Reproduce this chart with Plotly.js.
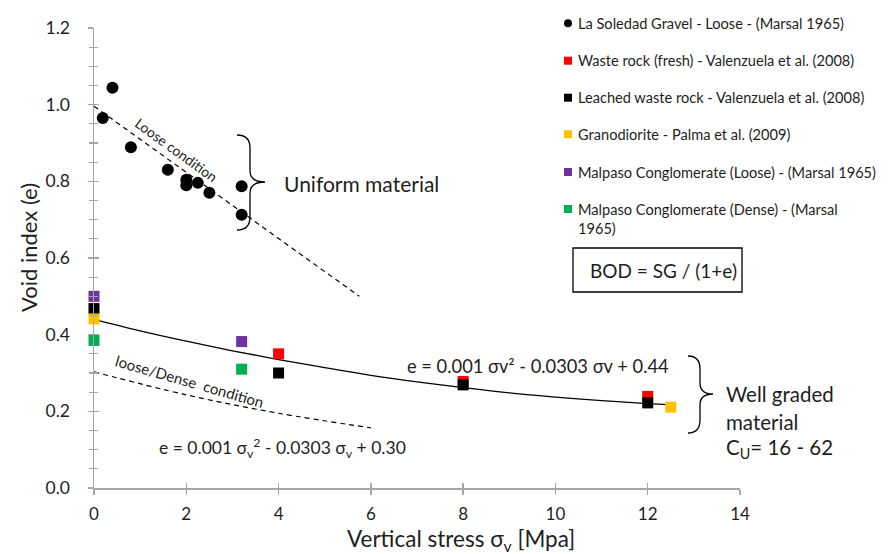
<!DOCTYPE html>
<html>
<head>
<meta charset="utf-8">
<script src="https://cdn.plot.ly/plotly-3.0.1.min.js"></script>
<style>html,body{margin:0;padding:0;background:#fff;}#chart{width:891px;height:554px;}</style>
</head>
<body>
<div id="chart"></div>
<script>
// ---- data ----
var soledadX = [0.19, 0.40, 0.80, 1.60, 2.0, 2.0, 2.25, 2.5, 3.2, 3.2];
var soledadY = [0.965, 1.044, 0.889, 0.830, 0.804, 0.790, 0.796, 0.770, 0.787, 0.713];
var freshX = [4, 8, 12];
var freshY = [0.350, 0.278, 0.239];
var leachedX = [0, 4, 8, 12];
var leachedY = [0.468, 0.300, 0.269, 0.222];
var granoX = [0, 12.5];
var granoY = [0.441, 0.211];
var mLooseX = [0, 3.2];
var mLooseY = [0.500, 0.382];
var mDenseX = [0, 3.2];
var mDenseY = [0.385, 0.310];
var fitX = [0, 1, 2, 3, 4, 5, 6, 7, 8, 9, 10, 11, 12, 12.5];
var fitY = [0.440, 0.410, 0.383, 0.358, 0.335, 0.314, 0.294, 0.277, 0.262, 0.248, 0.237, 0.228, 0.220, 0.217];
var looseLineX = [0, 5.75];
var looseLineY = [0.996, 0.500];
var denseLineX = [0, 2, 4, 6];
var denseLineY = [0.303, 0.243, 0.195, 0.157];
var xTicks = [0, 2, 4, 6, 8, 10, 12, 14];
var yTicks = [0.0, 0.2, 0.4, 0.6, 0.8, 1.0, 1.2];
var legendNames = [
  'La Soledad Gravel - Loose - (Marsal 1965)',
  'Waste rock (fresh) - Valenzuela et al. (2008)',
  'Leached waste rock - Valenzuela et al. (2008)',
  'Granodiorite - Palma et al. (2009)',
  'Malpaso Conglomerate (Loose) - (Marsal 1965)',
  'Malpaso Conglomerate (Dense) - (Marsal<br>1965)'
];
var legendColors = ['#000000', '#FF0000', '#000000', '#FFC000', '#7030A0', '#00B050'];

// ---- geometry helpers (pixel -> paper / data) ----
var W = 891, H = 554, ML = 94, MR = 151, MT = 28, MB = 66;
var PW = W - ML - MR, PH = H - MT - MB;
function px(p) { return (p - ML) / PW; }
function py(p) { return (H - MB - p) / PH; }
function dx(p) { return (p - ML) / PW * 14; }
function dy(p) { return (H - MB - p) / PH * 1.2; }

var FONT = 'Lato, "Open Sans", sans-serif';
var TXT = '#1e1e1e';

function sq(c) { return {color: c, symbol: 'square', size: 11}; }
var traces = [
  {x: looseLineX, y: looseLineY, mode: 'lines', line: {color: '#000', width: 1.2, dash: '5px,4px'}, hoverinfo: 'skip'},
  {x: denseLineX, y: denseLineY, mode: 'lines', line: {color: '#000', width: 1.2, dash: '5px,4px', shape: 'spline'}, hoverinfo: 'skip'},
  {x: fitX, y: fitY, mode: 'lines', line: {color: '#000', width: 1.3, shape: 'spline'}, hoverinfo: 'skip'},
  {x: soledadX, y: soledadY, mode: 'markers', name: legendNames[0], marker: {color: '#000', symbol: 'circle', size: 12}, cliponaxis: false},
  {x: freshX, y: freshY, mode: 'markers', name: legendNames[1], marker: sq(legendColors[1]), cliponaxis: false},
  {x: leachedX, y: leachedY, mode: 'markers', name: legendNames[2], marker: sq(legendColors[2]), cliponaxis: false},
  {x: granoX, y: granoY, mode: 'markers', name: legendNames[3], marker: sq(legendColors[3]), cliponaxis: false},
  {x: mLooseX, y: mLooseY, mode: 'markers', name: legendNames[4], marker: sq(legendColors[4]), cliponaxis: false},
  {x: mDenseX, y: mDenseY, mode: 'markers', name: legendNames[5], marker: sq(legendColors[5]), cliponaxis: false},
  {x: [null], y: [null], xaxis: 'x2', yaxis: 'y2', mode: 'markers', hoverinfo: 'skip'}
];

// ---- legend (drawn manually to match the compact layout) ----
var legendRowsY = [23.3, 60.7, 97.7, 134.3, 172, 209];
var annotations = [];
var shapes = [];
for (var i = 0; i < legendNames.length; i++) {
  var cy = legendRowsY[i];
  var ty = (i === 5) ? cy + 9.5 : cy;
  annotations.push({xref: 'paper', yref: 'paper', x: px(576), y: py(ty), xanchor: 'left', yanchor: 'middle',
    text: legendNames[i], showarrow: false, align: 'left', font: {family: FONT, size: 14.6, color: TXT}});
  var h = 4;
  shapes.push({type: i === 0 ? 'circle' : 'rect', xref: 'paper', yref: 'paper',
    x0: px(568 - h), x1: px(568 + h), y0: py(cy + h), y1: py(cy - h),
    fillcolor: legendColors[i], line: {width: 0}});
}

// BOD box
shapes.push({type: 'rect', xref: 'paper', yref: 'paper', x0: px(573), x1: px(742), y0: py(292), y1: py(248),
  line: {color: '#000', width: 1.3}, fillcolor: 'rgba(0,0,0,0)'});
annotations.push({xref: 'paper', yref: 'paper', x: px(663), y: py(270), xanchor: 'center', yanchor: 'middle',
  text: 'BOD = SG / (1+e)', showarrow: false, font: {family: FONT, size: 19, color: TXT}});

// braces
function brace(l, m, t, top, mid, bot) {
  function P(a, b) { return dx(a) + ',' + dy(b); }
  return 'M ' + P(l, top) + ' Q ' + P(m, top) + ' ' + P(m, top + 13) + ' L ' + P(m, mid - 11) +
    ' Q ' + P(m, mid) + ' ' + P(t, mid) + ' Q ' + P(m, mid) + ' ' + P(m, mid + 11) +
    ' L ' + P(m, bot - 13) + ' Q ' + P(m, bot) + ' ' + P(l, bot);
}
shapes.push({type: 'path', xref: 'x', yref: 'y', path: brace(237, 250, 265, 135, 182, 230), line: {color: '#000', width: 1.3}});
shapes.push({type: 'path', xref: 'x', yref: 'y', path: brace(688, 700, 713, 356, 394, 433), line: {color: '#000', width: 1.3}});

function txt(xp, yp, s, size, anchor, angle) {
  annotations.push({xref: 'paper', yref: 'paper', x: px(xp), y: py(yp), xanchor: anchor || 'left', yanchor: 'middle',
    text: s, showarrow: false, textangle: angle || 0, font: {family: FONT, size: size, color: TXT}});
}
txt(282, 183, 'Uniform material', 21);
txt(724, 394, 'Well graded', 20.5);
txt(724, 421.5, 'material', 20.5);
txt(724, 448.5, 'C<sub>U</sub>= 16 - 62', 20.5);
txt(405, 366, 'e = 0.001 σv² - 0.0303 σv + 0.44', 18.3);
txt(157, 448, 'e = 0.001 σ<sub>v</sub><sup>2</sup> - 0.0303 σ<sub>v</sub> + 0.30', 17.5);
txt(176, 149, 'Loose condition', 14, 'center', 36);
txt(189, 381, 'loose/Dense  condition', 15, 'center', 16);
// axis titles
txt(28, 248, 'Void index (e)', 22, 'center', -90);
txt(461, 540, 'Vertical stress σ<sub>v</sub> [Mpa]', 22.5, 'center');

var axisCol = '#a6a6a6';
var layout = {
  width: W, height: H,
  margin: {l: ML, r: MR, t: MT, b: MB, pad: 0},
  paper_bgcolor: '#fff', plot_bgcolor: '#fff',
  showlegend: false,
  font: {family: FONT, color: TXT},
  xaxis: {range: [0, 14], tickvals: xTicks, ticktext: xTicks.map(String), showgrid: false, zeroline: false,
    showline: true, linecolor: axisCol, linewidth: 1.5, ticks: 'outside', ticklen: 5, tickwidth: 1.3, tickcolor: axisCol,
    ticklabelstandoff: 5, tickfont: {family: FONT, size: 17, color: TXT}, fixedrange: true},
  yaxis: {range: [0, 1.2], tickvals: yTicks, ticktext: yTicks.map(function (v) { return v.toFixed(1); }), showgrid: false, zeroline: false,
    showline: true, linecolor: axisCol, linewidth: 1.5, ticks: 'outside', ticklen: 5, tickwidth: 1.3, tickcolor: axisCol,
    minor: {dtick: 0.05, ticks: 'outside', ticklen: 4, tickwidth: 1.2, tickcolor: axisCol, showgrid: false},
    ticklabelstandoff: 14, tickfont: {family: FONT, size: 17.5, color: TXT}, fixedrange: true},
  xaxis2: {range: [0, 14], overlaying: 'x', anchor: 'y', side: 'bottom', tickvals: xTicks, showticklabels: false, showgrid: false,
    zeroline: false, showline: false, ticks: 'inside', ticklen: 5, tickwidth: 1.3, tickcolor: axisCol},
  yaxis2: {range: [0, 1.2], overlaying: 'y', anchor: 'x', side: 'left', tickvals: yTicks, showticklabels: false, showgrid: false,
    zeroline: false, showline: false, ticks: 'inside', ticklen: 5, tickwidth: 1.3, tickcolor: axisCol,
    minor: {dtick: 0.05, ticks: 'inside', ticklen: 4, tickwidth: 1.2, tickcolor: axisCol, showgrid: false}},
  annotations: annotations,
  shapes: shapes
};
Plotly.newPlot('chart', traces, layout, {displayModeBar: false, staticPlot: true});
</script>
</body>
</html>
